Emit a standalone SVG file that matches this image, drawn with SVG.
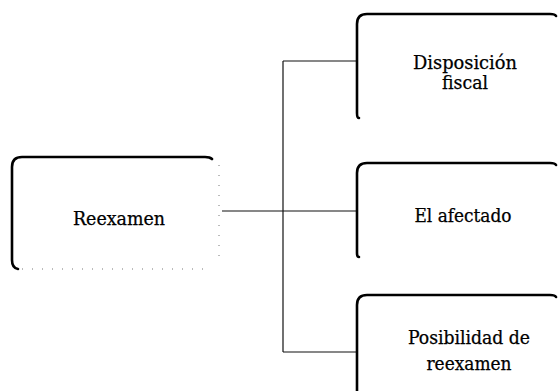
<svg xmlns="http://www.w3.org/2000/svg" width="560" height="391" viewBox="0 0 560 391">
  <style>
    .edge { fill: none; stroke: #000; stroke-width: 2.6; stroke-linecap: round; stroke-linejoin: round; }
    .faint { fill: none; stroke: #777; stroke-width: 1; stroke-dasharray: 1 9; }
    .wire { fill: none; stroke: #111; stroke-width: 1.2; }
    .label { font-family: "DejaVu Serif Condensed", "DejaVu Serif", "Liberation Serif", serif; font-stretch: condensed; font-size: 18px; fill: #000; stroke: #000; stroke-width: 0.25; text-anchor: middle; }
  </style>
  <rect width="560" height="391" fill="#fff"/>

  <g id="connectors">
    <path class="wire" d="M222 211 H357"/>
    <path class="wire" d="M283 61 V352"/>
    <path class="wire" d="M283 61 H357"/>
    <path class="wire" d="M283 352 H357"/>
  </g>

  <g id="reexamen">
    <path class="edge" d="M212 159 Q210 157 205 157 H22 Q12 157 12 167 V260 Q12 268 18 269"/>
    <path class="faint" d="M22 269 H212 M219 165 V262"/>
    <text class="label" x="119" y="225" textLength="92" lengthAdjust="spacingAndGlyphs">Reexamen</text>
  </g>

  <g id="disposicion-fiscal">
    <path class="edge" d="M556 16 Q555 14 550 14 H367 Q357 14 357 24 V113 Q357 118 359 118"/>
    <text class="label" x="465" y="69" textLength="104" lengthAdjust="spacingAndGlyphs">Disposición</text>
    <text class="label" x="465" y="89" textLength="46" lengthAdjust="spacingAndGlyphs">fiscal</text>
  </g>

  <g id="el-afectado">
    <path class="edge" d="M556 165 Q555 163 550 163 H367 Q357 163 357 173 V253 Q357 257 359 257"/>
    <text class="label" x="463" y="222" textLength="97" lengthAdjust="spacingAndGlyphs">El afectado</text>
  </g>

  <g id="posibilidad-reexamen">
    <path class="edge" d="M556 297 Q555 295 550 295 H367 Q357 295 357 305 V391"/>
    <text class="label" x="469" y="344" textLength="122" lengthAdjust="spacingAndGlyphs">Posibilidad de</text>
    <text class="label" x="469" y="370" textLength="85" lengthAdjust="spacingAndGlyphs">reexamen</text>
  </g>
</svg>
